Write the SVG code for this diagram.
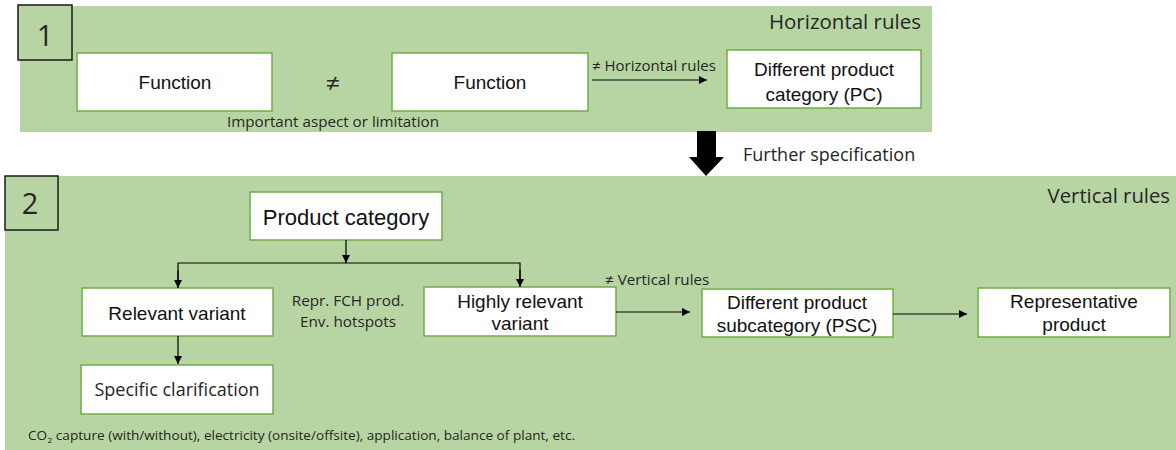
<svg xmlns="http://www.w3.org/2000/svg" width="1176" height="450" viewBox="0 0 1176 450">
<defs>
<marker id="ah" viewBox="0 0 10 10" refX="10" refY="5" markerWidth="8" markerHeight="8" markerUnits="userSpaceOnUse" orient="auto"><path d="M0,0 L10,5 L0,10 z" fill="#000"/></marker>
<style>
.panel{fill:#b7d5a3}
.num{fill:#b7d5a3;stroke:#1a1a1a;stroke-width:1.5}
.box{fill:#fff;stroke:#70ad47;stroke-width:1.5}
.a{font-family:"Liberation Sans",Arial,sans-serif;fill:#111;text-anchor:middle;font-size:19px}
.s{font-family:"Open Sans","Noto Sans",sans-serif;fill:#262626}
.c{stroke:#000;stroke-width:1.2;fill:none}
</style>
</defs>
<rect x="0" y="0" width="1176" height="450" fill="#fff"/>
<g id="panel1">
<rect class="panel" x="20" y="6" width="912" height="126"/>
<rect class="num" x="18" y="5" width="54" height="55"/>
<text class="s" x="45" y="46" font-size="29" text-anchor="middle">1</text>
<text class="s" x="921" y="29" font-size="20.5" text-anchor="end">Horizontal rules</text>
<text class="s" x="333" y="127" font-size="15.2" text-anchor="middle">Important aspect or limitation</text>
<text class="s" x="333" y="92" font-size="25" text-anchor="middle">≠</text>
</g>
<g id="panel2">
<rect class="panel" x="5" y="176" width="1171" height="274"/>
<rect class="num" x="5" y="176" width="53" height="54"/>
<text class="s" x="30" y="214" font-size="29" text-anchor="middle">2</text>
<text class="s" x="1170" y="203" font-size="20.3" text-anchor="end">Vertical rules</text>
<text class="s" x="348" y="306" font-size="15.3" text-anchor="middle">Repr. FCH prod.</text>
<text class="s" x="348" y="327" font-size="15.3" text-anchor="middle">Env. hotspots</text>
<text class="s" x="28" y="440" font-size="12" textLength="547" lengthAdjust="spacingAndGlyphs">CO<tspan font-size="8" dy="3">2</tspan><tspan dy="-3"> capture (with/without), electricity (onsite/offsite), application, balance of plant, etc.</tspan></text>
</g>
<g id="n-function1"><rect class="box" x="77" y="53" width="195" height="58"/><text class="a" x="175" y="89">Function</text></g>
<g id="n-function2"><rect class="box" x="392" y="53" width="196" height="58"/><text class="a" x="490" y="89">Function</text></g>
<g id="n-pc"><rect class="box" x="727" y="50" width="194" height="58"/><text class="a" x="824" y="76">Different product</text><text class="a" x="824" y="101">category (PC)</text></g>
<g id="n-further">
<path d="M697,131 H716 V157 H724 L706,176 L689,157 H697 Z" fill="#000"/>
<text class="s" x="743" y="161" font-size="18">Further specification</text>
</g>
<g id="n-productcategory"><rect class="box" x="250" y="192" width="192" height="48"/><text class="a" x="346" y="225" style="font-size:22px">Product category</text></g>
<g id="n-relevant"><rect class="box" x="82" y="288" width="191" height="48"/><text class="a" x="177" y="320">Relevant variant</text></g>
<g id="n-highly"><rect class="box" x="424" y="287" width="192" height="49"/><text class="a" x="520" y="308">Highly relevant</text><text class="a" x="520" y="330">variant</text></g>
<g id="n-psc"><rect class="box" x="702" y="289" width="191" height="48"/><text class="a" x="797" y="309">Different product</text><text class="a" x="797" y="332">subcategory (PSC)</text></g>
<g id="n-rep"><rect class="box" x="978" y="288" width="192" height="49"/><text class="a" x="1074" y="308">Representative</text><text class="a" x="1074" y="331">product</text></g>
<g id="n-specific"><rect class="box" x="81" y="365" width="192" height="49"/><text class="s" x="177" y="396" font-size="18" text-anchor="middle">Specific clarification</text></g>
<g id="connectors">
<line class="c" x1="592" y1="80" x2="707" y2="80" marker-end="url(#ah)"/>
<text class="s" x="592" y="71" font-size="15">≠ Horizontal rules</text>
<line class="c" x1="346" y1="240" x2="346" y2="263" marker-end="url(#ah)"/>
<polyline class="c" points="178,287 178,263 520,263 520,286" />
<line class="c" x1="178" y1="270" x2="178" y2="288" marker-end="url(#ah)"/>
<line class="c" x1="520" y1="270" x2="520" y2="287" marker-end="url(#ah)"/>
<line class="c" x1="616" y1="312" x2="690" y2="312" marker-end="url(#ah)"/>
<text class="s" x="605" y="285" font-size="15.2">≠ Vertical rules</text>
<line class="c" x1="893" y1="314" x2="967" y2="314" marker-end="url(#ah)"/>
<line class="c" x1="178" y1="336" x2="178" y2="364" marker-end="url(#ah)"/>
</g>
</svg>
